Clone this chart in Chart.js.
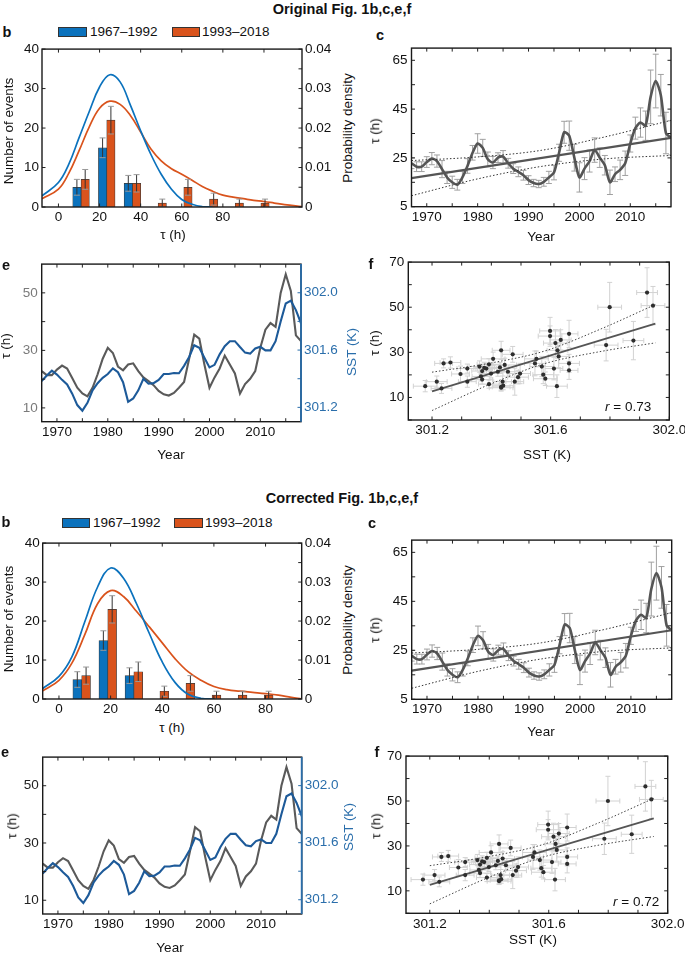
<!DOCTYPE html>
<html>
<head>
<meta charset="utf-8">
<script src="https://cdn.jsdelivr.net/npm/chart.js@4.4.1/dist/chart.umd.min.js"></script>
<style>
  html, body { margin: 0; padding: 0; background: #fff; overflow: hidden; }
  body { width: 685px; height: 955px; position: relative;
         font-family: "Liberation Sans", Arial, Helvetica, sans-serif; color: #111; }
  .box { position: absolute; }
  .t { position: absolute; white-space: nowrap; line-height: 1; }
  .sw { position: absolute; box-sizing: border-box; border: 1px solid #333; }
</style>
</head>
<body>
<script>
// ---- data: yearly series (panels c, e, f) ----
const years = [1967, 1968, 1969, 1970, 1971, 1972, 1973, 1974, 1975, 1976,
  1977, 1978, 1979, 1980, 1981, 1982, 1983, 1984, 1985, 1986,
  1987, 1988, 1989, 1990, 1991, 1992, 1993, 1994, 1995, 1996,
  1997, 1998, 1999, 2000, 2001, 2002, 2003, 2004, 2005, 2006,
  2007, 2008, 2009, 2010, 2011, 2012, 2013, 2014, 2015, 2016,
  2017, 2018];
const tau = [22.8, 21.4, 21.4, 23.3, 24.7, 23.7, 20.4, 17, 15, 14,
  17, 21.7, 27.1, 30.9, 29.1, 24.4, 23.1, 25.1, 25.5, 22.8,
  20.6, 19.3, 17.9, 15.9, 14.7, 14.3, 15.2, 17, 19, 27.1,
  35.5, 34.1, 25.1, 17, 20.6, 23.7, 28.2, 25.1, 22, 15,
  18.3, 20.1, 22.8, 30.9, 37.2, 39.5, 38.2, 50, 56.5, 50.7,
  35.2, 33.2];
const tauErr = [2.2, 2.0, 2.0, 2.2, 2.5, 2.5, 3.5, 2.5, 2.5, 2.2,
  2.5, 3.0, 3.0, 4.0, 3.5, 3.0, 2.5, 2.0, 2.5, 2.0,
  2.0, 2.0, 2.0, 1.8, 1.5, 1.5, 1.8, 2.5, 3.0, 3.5,
  4.5, 6.0, 5.5, 6.0, 4.5, 4.5, 5.0, 4.0, 4.0, 5.0,
  3.0, 4.0, 5.0, 3.5, 4.5, 6.0, 6.0, 11, 11, 8.5,
  8.5, 7.0];
const sst = [301.383, 301.422, 301.456, 301.429, 301.392, 301.36, 301.296, 301.216, 301.177, 301.232,
  301.319, 301.369, 301.406, 301.433, 301.472, 301.445, 301.376, 301.239, 301.262, 301.319,
  301.399, 301.365, 301.369, 301.392, 301.433, 301.433, 301.44, 301.438, 301.49, 301.552,
  301.634, 301.616, 301.547, 301.479, 301.497, 301.57, 301.627, 301.662, 301.662, 301.621,
  301.582, 301.575, 301.611, 301.623, 301.598, 301.598, 301.662, 301.799, 301.925, 301.945,
  301.879, 301.787];
const sstErr = [0.035, 0.03, 0.035, 0.03, 0.04, 0.035, 0.03, 0.035, 0.04, 0.035,
  0.03, 0.035, 0.04, 0.03, 0.035, 0.04, 0.035, 0.03, 0.035, 0.035,
  0.04, 0.03, 0.035, 0.035, 0.03, 0.04, 0.035, 0.03, 0.035, 0.04,
  0.035, 0.04, 0.035, 0.03, 0.035, 0.04, 0.035, 0.035, 0.03, 0.035,
  0.04, 0.035, 0.03, 0.035, 0.04, 0.035, 0.03, 0.04, 0.035, 0.04,
  0.035, 0.04];

// trend lines and confidence bands
const trendYears = [1967, 2018];
const trendTau = [16.7, 33.2];
const bandYears = [1967, 1980, 1992.5, 2005, 2018];
const bandUpperC = [23.9, 25.4, 28.1, 33.6, 40.4];
const bandLowerC = [9.5, 16.4, 21.5, 24.6, 26.0];
const fitSst = [301.2, 301.953];
const fitTauOrig = [12.7, 42.7];
const fitTauCorr = [12.7, 42.3];
const bandSst = [301.2, 301.4, 301.58, 301.77, 301.953];
const bandUpperF = [21.2, 25.3, 30.6, 40.4, 51.2];
const bandLowerF = [4.2, 16.1, 25.0, 30.4, 34.2];

// ---- data: histograms (panel b) ----
const binsOrig = [11, 23.5, 36, 48.5, 61, 73.5, 86, 98.5];
const earlyOrig = [5, 15, 6];
const lateOrig = [7, 22, 6, 1, 5, 2, 1, 1];
const earlyErrOrig = [2, 2.5, 2];
const lateErrOrig = [2.5, 3.5, 2.2, 1, 2, 1.5, 1, 1];
const pdfTauOrig = [-8, 0, 5, 10, 15, 20, 25, 30, 35, 40, 45, 50, 55, 60, 65, 70, 75,
  80, 85, 90, 95, 100, 105, 110, 118.5];
const pdfEarlyOrig = [0.0028, 0.0062, 0.0108, 0.0175, 0.0242, 0.0304, 0.0335, 0.0317, 0.0258, 0.0193,
  0.0133, 0.0083, 0.0045, 0.0019, 0.0007, 0.0001, 0, null, null, null, null, null, null, null, null];
const pdfLateOrig = [0.0021, 0.0045, 0.0085, 0.0142, 0.0203, 0.025, 0.0268, 0.026, 0.0232, 0.019,
  0.0147, 0.0117, 0.0097, 0.0083, 0.0068, 0.0052, 0.004, 0.003, 0.0025, 0.0021,
  0.0017, 0.0014, 0.001, 0.0006, 0.0001];

const binsCorr = [8.8, 18.9, 29.0, 39.1, 49.2, 59.3, 69.4, 79.5];
const earlyCorr = [5, 15, 6];
const lateCorr = [6, 23, 7, 2, 4, 1, 1, 1];
const earlyErrCorr = [2, 2.5, 2];
const lateErrCorr = [2.2, 3.5, 2.5, 1.3, 2, 1, 1, 1];
const pdfTauCorr = [-6.3, 0, 5, 10, 15, 20, 25, 30, 35, 40, 45, 50, 55, 60, 65, 70, 75, 80, 85, 90, 94];
const pdfEarlyCorr = [0.0027, 0.0058, 0.0108, 0.0198, 0.0288, 0.0336, 0.031, 0.0245, 0.0168, 0.0095,
  0.0042, 0.0012, 0.0002, 0, null, null, null, null, null, null, null];
const pdfLateCorr = [0.0021, 0.0048, 0.0092, 0.0165, 0.0245, 0.0278, 0.0263, 0.0225, 0.0185, 0.0144,
  0.0103, 0.007, 0.0048, 0.0032, 0.0024, 0.002, 0.0017, 0.0014, 0.001, 0.0004, 0];

// ---- tick labels ----
const histXTicks = [0, 20, 40, 60, 80, 100];
const histXLabels = [0, 20, 40, 60, 80];
const countTicks = [0, 10, 20, 30, 40];
const densTicks = [0, 0.005, 0.01, 0.015, 0.02, 0.025, 0.03, 0.035, 0.04];
const densLabels = [0, 0.01, 0.02, 0.03, 0.04];
const yearTicks = [1970, 1975, 1980, 1985, 1990, 1995, 2000, 2005, 2010, 2015];
const yearLabels = [1970, 1980, 1990, 2000, 2010];
const tauCTicks = [5, 15, 25, 35, 45, 55, 65];
const tauCLabels = [5, 25, 45, 65];
const tauETicks = [10, 20, 30, 40, 50];
const tauELabels = [10, 30, 50];
const sstETicks = [301.2, 301.4, 301.6, 301.8, 302.0];
const sstLabels = [301.2, 301.6, 302.0];
const sstFTicks = [301.2, 301.3, 301.4, 301.5, 301.6, 301.7, 301.8, 301.9, 302.0];
const tauFTicks = [0, 10, 20, 30, 40, 50, 60, 70];
const tauFLabels = [10, 30, 50, 70];

// ---- styling ----
const BLUE = '#0b72bd';
const ORANGE = '#d9531c';
const SSTBLUE = '#1d5a99';
const GREY = '#555';
const FS = 13.5;

Chart.defaults.font.family = '"Liberation Sans", Arial, Helvetica, sans-serif';
Chart.defaults.font.size = FS;
Chart.defaults.color = '#111';
Chart.defaults.animation = false;

function line(ctx, x0, y0, x1, y1) {
  ctx.beginPath(); ctx.moveTo(x0, y0); ctx.lineTo(x1, y1); ctx.stroke();
}

// error bars stored on datasets as errY / errX (half widths)
function drawErr(chart, layer) {
  const ctx = chart.ctx, a = chart.chartArea;
  chart.data.datasets.forEach((ds, i) => {
    if (!ds.errY || (ds.errLayer || 'back') !== layer) return;
    const meta = chart.getDatasetMeta(i);
    const xs = chart.scales[meta.xAxisID], ys = chart.scales[meta.yAxisID];
    const cap = ds.errCap || 3;
    ctx.save();
    ctx.beginPath(); ctx.rect(a.left, a.top, a.width, a.height); ctx.clip();
    ctx.lineWidth = 1;
    meta.data.forEach((el, j) => {
      const d = ds.data[j];
      const e = ds.errY[j];
      const y0 = ys.getPixelForValue(d.y - e), y1 = ys.getPixelForValue(d.y + e);
      ctx.strokeStyle = ds.errColor;
      line(ctx, el.x, y0, el.x, y1);
      ctx.strokeStyle = ds.errCapColor || ds.errColor;
      line(ctx, el.x - cap, y0, el.x + cap, y0);
      line(ctx, el.x - cap, y1, el.x + cap, y1);
      if (ds.errX) {
        const x0 = xs.getPixelForValue(d.x - ds.errX[j]), x1 = xs.getPixelForValue(d.x + ds.errX[j]);
        ctx.strokeStyle = ds.errColor;
        line(ctx, x0, el.y, x1, el.y);
        line(ctx, x0, el.y - cap, x0, el.y + cap);
        line(ctx, x1, el.y - cap, x1, el.y + cap);
      }
    });
    ctx.restore();
  });
}

Chart.register({
  id: 'errbars',
  beforeDatasetsDraw(chart) { drawErr(chart, 'back'); },
  afterDatasetsDraw(chart) { drawErr(chart, 'front'); }
});

// box frame with inward ticks, matlab style
Chart.register({
  id: 'frame',
  afterDatasetsDraw(chart, args, o) {
    const { ctx, chartArea: a, scales } = chart;
    const L = 3.5;
    ctx.save();
    ctx.lineWidth = 1;
    ctx.strokeStyle = '#222';
    scales.x.ticks.forEach(t => {
      const p = scales.x.getPixelForValue(t.value);
      line(ctx, p, a.bottom, p, a.bottom - L);
      line(ctx, p, a.top, p, a.top + L);
    });
    scales.y.ticks.forEach(t => {
      const p = scales.y.getPixelForValue(t.value);
      line(ctx, a.left, p, a.left + L, p);
      if (!scales.y2) line(ctx, a.right, p, a.right - L, p);
    });
    if (scales.y2) {
      ctx.strokeStyle = o.rightColor || '#222';
      scales.y2.ticks.forEach(t => {
        const p = scales.y2.getPixelForValue(t.value);
        line(ctx, a.right, p, a.right - L, p);
      });
    }
    ctx.lineWidth = 1.4;
    ctx.strokeStyle = '#1a1a1a';
    ctx.strokeRect(a.left, a.top, a.width, a.height);
    if (o.rightColor) {
      ctx.strokeStyle = o.rightColor;
      ctx.lineWidth = 1.8;
      line(ctx, a.right, a.top, a.right, a.bottom);
    }
    ctx.restore();
  }
});

function addCanvas(box) {
  const d = document.createElement('div');
  d.className = 'box';
  d.style.left = box[0] + 'px';
  d.style.top = box[1] + 'px';
  d.style.width = (box[2] - box[0]) + 'px';
  d.style.height = (box[3] - box[1]) + 'px';
  const c = document.createElement('canvas');
  d.appendChild(c);
  document.body.appendChild(d);
  return c;
}

function axis(o) {
  const cfg = {
    type: 'linear', position: o.pos, min: o.min, max: o.max, offset: false,
    grid: { display: false, drawTicks: false }, border: { display: false },
    ticks: {
      autoSkip: false, maxRotation: 0, padding: o.pad, color: o.color || '#111',
      callback: v => o.labels.includes(v) ? (o.fmt ? o.fmt(v) : String(v)) : ''
    },
    afterBuildTicks: s => { s.ticks = o.ticks.map(v => ({ value: v })); }
  };
  if (o.width != null) cfg.afterFit = s => { s.width = o.width; };
  if (o.height != null) cfg.afterFit = s => { s.height = o.height; };
  return cfg;
}

function baseOptions(box, plot, scales, frame, padRight) {
  return {
    responsive: true, maintainAspectRatio: false, animation: false,
    layout: { padding: { top: plot[1] - box[1], right: padRight ? box[2] - plot[2] : 0, left: 0, bottom: 0 } },
    plugins: { legend: { display: false }, tooltip: { enabled: false }, frame: frame || {} },
    scales
  };
}

const pts = (xs, ys) => xs.map((x, i) => ({ x, y: ys[i] }));

function histPanel(box, plot, xr, bins, early, late, errE, errL, pdfX, pdfE, pdfL, barW, xTicks) {
  new Chart(addCanvas(box), {
    type: 'bar',
    data: {
      datasets: [
        { type: 'line', data: pts(pdfX, pdfE), yAxisID: 'y2', borderColor: BLUE, borderWidth: 1.7,
          pointRadius: 0, tension: 0.4, order: 0 },
        { type: 'line', data: pts(pdfX, pdfL), yAxisID: 'y2', borderColor: ORANGE, borderWidth: 1.7,
          pointRadius: 0, tension: 0.4, order: 0 },
        { type: 'bar', data: pts(bins, early), yAxisID: 'y', backgroundColor: BLUE, borderColor: '#3a3a3a',
          borderWidth: 0.7, barThickness: barW, errY: errE, errColor: '#333', errCapColor: '#999',
          errLayer: 'front', errCap: 3, order: 1 },
        { type: 'bar', data: pts(bins, late), yAxisID: 'y', backgroundColor: ORANGE, borderColor: '#3a3a3a',
          borderWidth: 0.7, barThickness: barW, errY: errL, errColor: '#333', errCapColor: '#999',
          errLayer: 'front', errCap: 3, order: 1 }
      ]
    },
    options: baseOptions(box, plot, {
      x: axis({ pos: 'bottom', min: xr[0], max: xr[1], ticks: xTicks, labels: histXLabels,
                pad: 2.5, height: box[3] - plot[3] }),
      y: axis({ pos: 'left', min: 0, max: 40, ticks: countTicks, labels: countTicks,
                pad: 3, width: plot[0] - box[0] }),
      y2: axis({ pos: 'right', min: 0, max: 0.04, ticks: densTicks, labels: densLabels,
                 fmt: v => v === 0 ? '0' : v.toFixed(2), pad: 3, width: box[2] - plot[2] })
    })
  });
}

function tauPanel(box, plot) {
  new Chart(addCanvas(box), {
    type: 'line',
    data: {
      datasets: [
        { data: pts(bandYears, bandUpperC), borderColor: '#333', borderWidth: 1, borderDash: [1.5, 2],
          pointRadius: 0, cubicInterpolationMode: 'monotone' },
        { data: pts(bandYears, bandLowerC), borderColor: '#333', borderWidth: 1, borderDash: [1.5, 2],
          pointRadius: 0, cubicInterpolationMode: 'monotone' },
        { data: pts(trendYears, trendTau), borderColor: GREY, borderWidth: 2.2, pointRadius: 0 },
        { data: pts(years, tau), borderColor: GREY, borderWidth: 2.6, pointRadius: 0, tension: 0.25,
          errY: tauErr, errColor: '#a0a0a0', errCap: 3 }
      ]
    },
    options: baseOptions(box, plot, {
      x: axis({ pos: 'bottom', min: 1967, max: 2018, ticks: yearTicks, labels: yearLabels,
                pad: 2, height: box[3] - plot[3] }),
      y: axis({ pos: 'left', min: 5, max: 70, ticks: tauCTicks, labels: tauCLabels,
                pad: 4, width: plot[0] - box[0] })
    }, {}, true)
  });
}

function dualPanel(box, plot, leftColor) {
  new Chart(addCanvas(box), {
    type: 'line',
    data: {
      datasets: [
        { data: pts(years, tau), yAxisID: 'y', borderColor: '#5a5a5a', borderWidth: 2.1, pointRadius: 0, order: 2 },
        { data: pts(years, sst), yAxisID: 'y2', borderColor: SSTBLUE, borderWidth: 2.1, pointRadius: 0, order: 1 }
      ]
    },
    options: baseOptions(box, plot, {
      x: axis({ pos: 'bottom', min: 1967, max: 2018, ticks: yearTicks, labels: yearLabels,
                pad: 2.5, height: box[3] - plot[3] }),
      y: axis({ pos: 'left', min: 5.2, max: 60, ticks: tauETicks, labels: tauELabels, color: leftColor,
                pad: 4, width: plot[0] - box[0] }),
      y2: axis({ pos: 'right', min: 301.1, max: 302.2, ticks: sstETicks, labels: sstLabels, color: '#2a6eab',
                 fmt: v => v.toFixed(1), pad: 3, width: box[2] - plot[2] })
    }, { rightColor: '#2a6eab' })
  });
}

function scatterPanel(box, plot, fitTau) {
  new Chart(addCanvas(box), {
    type: 'scatter',
    data: {
      datasets: [
        { data: pts(sst, tau), backgroundColor: '#2e2e2e', borderWidth: 0, pointRadius: 2.1,
          errY: tauErr, errX: sstErr, errColor: '#d2d2d2', errCap: 2.5 },
        { data: pts(fitSst, fitTau), showLine: true, borderColor: GREY, borderWidth: 1.8, pointRadius: 0 },
        { data: pts(bandSst, bandUpperF), showLine: true, borderColor: '#444', borderWidth: 1,
          borderDash: [1.5, 2], pointRadius: 0, cubicInterpolationMode: 'monotone' },
        { data: pts(bandSst, bandLowerF), showLine: true, borderColor: '#444', borderWidth: 1,
          borderDash: [1.5, 2], pointRadius: 0, cubicInterpolationMode: 'monotone' }
      ]
    },
    options: baseOptions(box, plot, {
      x: axis({ pos: 'bottom', min: 301.12, max: 302.0, ticks: sstFTicks, labels: sstLabels,
                fmt: v => v.toFixed(1), pad: 2.5, height: box[3] - plot[3] }),
      y: axis({ pos: 'left', min: 0, max: 70, ticks: tauFTicks, labels: tauFLabels,
                pad: 4, width: plot[0] - box[0] })
    }, {}, true)
  });
}

// ---- html text ----
function txt(html, x, y, o = {}) {
  const d = document.createElement('div');
  d.className = 't';
  d.innerHTML = html;
  d.style.left = x + 'px';
  d.style.top = y + 'px';
  d.style.fontSize = (o.size || FS) + 'px';
  if (o.bold) d.style.fontWeight = 'bold';
  if (o.color) d.style.color = o.color;
  d.style.transform = o.rot ? 'translate(-50%,-50%) rotate(-90deg)'
    : (o.left ? 'translate(0,-50%)' : 'translate(-50%,-50%)');
  document.body.appendChild(d);
}
function swatch(x0, y0, x1, y1, color) {
  const d = document.createElement('div');
  d.className = 'sw';
  d.style.left = x0 + 'px'; d.style.top = y0 + 'px';
  d.style.width = (x1 - x0) + 'px'; d.style.height = (y1 - y0) + 'px';
  d.style.background = color;
  document.body.appendChild(d);
}

// ---- original figure ----
txt('Original Fig. 1b,c,e,f', 342, 9, { bold: true, size: 14.5 });
txt('b', 7, 32, { bold: true, size: 14.5 });
swatch(58, 27, 87, 37, BLUE); txt('1967–1992', 90, 32, { left: true });
swatch(172, 27, 200, 37, ORANGE); txt('1993–2018', 202, 32, { left: true });
histPanel([0, 38, 336, 228], [42, 47, 302, 207], [-8, 118.5], binsOrig, earlyOrig, lateOrig,
  earlyErrOrig, lateErrOrig, pdfTauOrig, pdfEarlyOrig, pdfLateOrig, 8.3, histXTicks);
txt('Number of events', 9, 131, { rot: true });
txt('Probability density', 348, 128, { rot: true });
txt('τ (h)', 173, 235);

txt('c', 380, 35, { bold: true, size: 14.5 });
tauPanel([380, 36, 685, 228], [411.5, 45, 671, 206.7]);
txt('τ (h)', 375, 131, { rot: true });
txt('Year', 541, 237);

txt('e', 6, 265, { bold: true, size: 14.5 });
dualPanel([0, 252, 352, 440], [41.7, 260.7, 301, 421.7], '#7a7a7a');
txt('τ (h)', 6, 346, { rot: true });
txt('SST (K)', 352, 352, { rot: true, color: '#2a6eab' });
txt('Year', 171, 455);

txt('f', 371, 264, { bold: true, size: 14.5 });
scatterPanel([380, 250, 690, 440], [408.3, 258.3, 669.3, 420], fitTauOrig);
txt('τ (h)', 375, 343, { rot: true });
txt('SST (K)', 547, 455);
txt('<i>r</i> = 0.73', 605, 407, { left: true });

// ---- corrected figure ----
txt('Corrected Fig. 1b,c,e,f', 342, 498, { bold: true, size: 14.5 });
txt('b', 6, 522, { bold: true, size: 14.5 });
swatch(62, 518, 90, 528, BLUE); txt('1967–1992', 93, 523, { left: true });
swatch(174, 518, 203, 528, ORANGE); txt('1993–2018', 205, 523, { left: true });
histPanel([0, 532, 336, 720], [42.7, 541, 301.7, 699], [-6.3, 94], binsCorr, earlyCorr, lateCorr,
  earlyErrCorr, lateErrCorr, pdfTauCorr, pdfEarlyCorr, pdfLateCorr, 8.8, histXLabels);
txt('Number of events', 9, 619, { rot: true });
txt('Probability density', 348, 620, { rot: true });
txt('τ (h)', 172, 728);

txt('c', 372, 523, { bold: true, size: 14.5 });
tauPanel([380, 528, 685, 720], [411.7, 536.7, 671.7, 699.3]);
txt('τ (h)', 375, 630, { rot: true });
txt('Year', 541, 732);

txt('e', 5, 752, { bold: true, size: 14.5 });
dualPanel([0, 745, 352, 935], [42.7, 753.3, 301.7, 914], '#222');
txt('τ (h)', 12, 826, { rot: true });
txt('SST (K)', 349, 827, { rot: true, color: '#2a6eab' });
txt('Year', 170, 948);

txt('f', 377, 752, { bold: true, size: 14.5 });
scatterPanel([380, 744, 690, 935], [406, 752.3, 667.7, 913.3], fitTauCorr);
txt('τ (h)', 376, 826, { rot: true });
txt('SST (K)', 533, 940);
txt('<i>r</i> = 0.72', 613, 902, { left: true });
</script>
</body>
</html>
